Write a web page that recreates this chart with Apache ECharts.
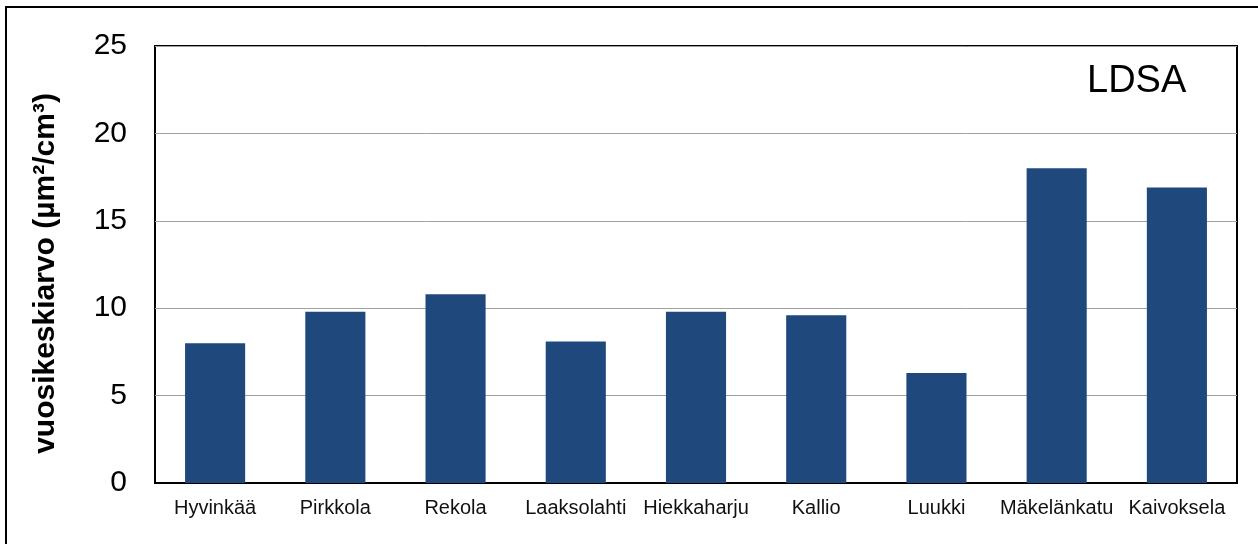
<!DOCTYPE html>
<html>
<head>
<meta charset="utf-8">
<script src="https://cdn.jsdelivr.net/npm/echarts@6/dist/echarts.min.js"></script>
<style>
  html, body { margin: 0; padding: 0; background: #fff; }
  #chart { width: 1258px; height: 544px; }
</style>
</head>
<body>
<div id="chart"></div>
<script>
// station names and LDSA annual means
const stations = ["Hyvinkää", "Pirkkola", "Rekola", "Laaksolahti", "Hiekkaharju", "Kallio", "Luukki", "Mäkelänkatu", "Kaivoksela"];
const ldsaValues = [8.0, 9.8, 10.8, 8.1, 9.8, 9.6, 6.3, 18.0, 16.9];
const yTicks = [0, 5, 10, 15, 20, 25];

const font = "Liberation Sans, Arial, sans-serif";

let chart = echarts.init(document.getElementById("chart"));
chart.setOption({
  animation: false,
  textStyle: { fontFamily: font },
  title: {
    text: "LDSA",
    left: 1082,
    top: 58,
    textStyle: { fontSize: 38, fontWeight: "normal", color: "#000", fontFamily: font },
  },
  graphic: [
    {
      // outer frame, cut off at right and bottom
      type: "rect",
      shape: { x: 6, y: 7, width: 1300, height: 600 },
      style: { fill: "none", stroke: "#000", lineWidth: 2 },
      silent: true,
    },
  ],
  grid: {
    left: 155,
    right: 21,
    top: 46,
    bottom: 61,
    show: true,
    borderColor: "#000",
    borderWidth: 2,
  },
  xAxis: {
    type: "category",
    data: stations,
    axisTick: { show: false },
    axisLine: { lineStyle: { color: "#000", width: 2 } },
    axisLabel: { interval: 0, fontSize: 20, color: "#111", margin: 15, fontFamily: font },
  },
  yAxis: {
    type: "value",
    min: yTicks[0],
    max: yTicks[yTicks.length - 1],
    interval: 5,
    name: "vuosikeskiarvo (µm²/cm³)",
    nameLocation: "middle",
    nameGap: 94,
    nameTextStyle: { fontSize: 30, fontWeight: "bold", color: "#000", fontFamily: font, padding: [0, 18, 0, 0] },
    axisLine: { show: false },
    axisTick: { show: false },
    axisLabel: { fontSize: 30, color: "#000", margin: 28, fontFamily: font },
    splitLine: { lineStyle: { color: "#a0a0a0", width: 1 } },
  },
  series: [
    {
      type: "bar",
      data: ldsaValues,
      barWidth: "50%",
      itemStyle: { color: "#1f497d" },
    },
  ],
});
</script>
</body>
</html>
